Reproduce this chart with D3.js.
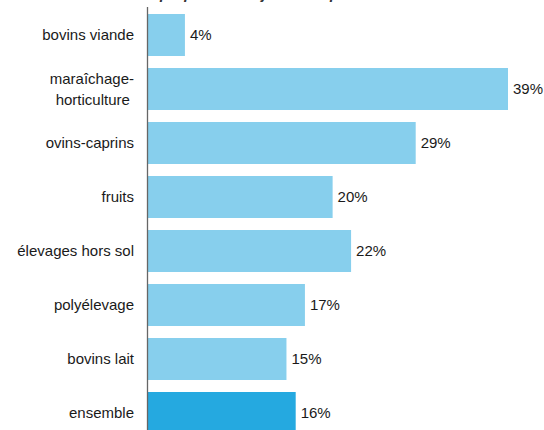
<!DOCTYPE html>
<html lang="fr">
<head>
  <meta charset="UTF-8">
  <title>Proportion par orientation</title>
  <script src="https://d3js.org/d3.v7.min.js"></script>
  <style>
    body { margin: 0; background: #fff; }
    svg { display: block; font-family: "Liberation Sans", Arial, sans-serif; }
    .cat { font-size: 15px; fill: #1a1a1a; white-space: pre; }
    .val { font-size: 15px; fill: #1a1a1a; }
    .title { font-size: 15px; font-weight: bold; font-style: italic; fill: #333; }
  </style>
</head>
<body>
  <svg width="544" height="430"></svg>

  <script>
    // categories top to bottom, values in %
    const categories = ["bovins viande", "maraîchage-\nhorticulture ", "ovins-caprins", "fruits",
                        "élevages hors sol", "polyélevage", "bovins lait", "ensemble"];
    const values     = [4, 39, 29, 20, 22, 17, 15, 16];
    const highlight  = "ensemble";

    const svg = d3.select("svg");

    const x = d3.scaleLinear()
                .domain([0, 39])
                .range([148, 508]);

    const y = d3.scaleBand()
                .domain(categories)
                .range([8, 440])
                .paddingInner(0.2222)
                .paddingOuter(0.1111);

    const data = categories.map((c, i) => ({ cat: c, value: values[i] }));

    // title, cut off at the top of the frame like in the source image
    svg.append("text")
       .attr("class", "title")
       .attr("x", 160)
       .attr("y", -1.5)
       .text("proportion de jeunes exploitants");

    svg.selectAll("rect.bar")
       .data(data)
       .enter().append("rect")
         .attr("class", "bar")
         .attr("x", x(0))
         .attr("y", d => y(d.cat))
         .attr("width", d => x(d.value) - x(0))
         .attr("height", y.bandwidth())
         .attr("fill", d => d.cat === highlight ? "#25a9e0" : "#87cfed");

    // value labels
    svg.selectAll("text.val")
       .data(data)
       .enter().append("text")
         .attr("class", "val")
         .attr("x", d => x(d.value) + 5)
         .attr("y", d => y(d.cat) + y.bandwidth() / 2)
         .attr("dy", "0.35em")
         .text(d => d.value + "%");

    // category labels (may wrap on two lines)
    const labels = svg.selectAll("text.cat")
       .data(data)
       .enter().append("text")
         .attr("class", "cat")
         .attr("text-anchor", "end")
         .attr("y", d => y(d.cat) + y.bandwidth() / 2);

    labels.each(function(d) {
      const lines = d.cat.split("\n");
      const t = d3.select(this);
      lines.forEach((ln, i) => {
        t.append("tspan")
         .attr("x", 134)
         .attr("dy", i === 0 ? (0.35 - (lines.length - 1) * 0.7) + "em" : "1.4em")
         .text(ln);
      });
    });

    // vertical axis line
    svg.append("line")
       .attr("x1", 147.5).attr("x2", 147.5)
       .attr("y1", 7).attr("y2", 440)
       .attr("stroke", "#666")
       .attr("stroke-width", 1.3);
  </script>
</body>
</html>
